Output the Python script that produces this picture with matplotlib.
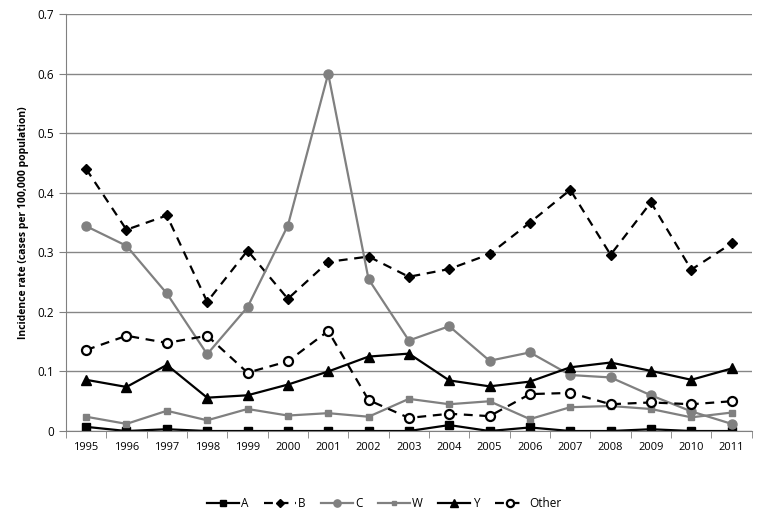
import numpy as np
from matplotlib import pyplot as plt

years = [str(y) for y in range(1995, 2012)]

a_vals = [0.007, 0.0, 0.003, 0.0, 0.0, 0.0, 0.0, 0.0, 0.0, 0.010, 0.0, 0.006, 0.0, 0.0, 0.003, 0.0, 0.0]
b_vals = [0.440, 0.338, 0.362, 0.217, 0.303, 0.222, 0.284, 0.293, 0.259, 0.272, 0.297, 0.350, 0.405, 0.296, 0.384, 0.271, 0.315]
c_vals = [0.344, 0.311, 0.231, 0.129, 0.208, 0.345, 0.600, 0.255, 0.152, 0.176, 0.118, 0.132, 0.094, 0.090, 0.060, 0.033, 0.012]
w_vals = [0.024, 0.012, 0.034, 0.018, 0.037, 0.026, 0.030, 0.024, 0.054, 0.045, 0.050, 0.020, 0.040, 0.042, 0.037, 0.023, 0.031]
y_vals = [0.086, 0.074, 0.111, 0.056, 0.060, 0.078, 0.100, 0.125, 0.130, 0.085, 0.075, 0.083, 0.107, 0.115, 0.101, 0.086, 0.105]
other_vals = [0.136, 0.160, 0.148, 0.160, 0.098, 0.117, 0.168, 0.052, 0.022, 0.029, 0.025, 0.062, 0.064, 0.045, 0.048, 0.045, 0.050]

plt.rcParams['font.family'] = ['Open Sans', 'DejaVu Sans']

fig = plt.figure(figsize=(7.68, 5.25), dpi=100)
ax = fig.add_axes([0.0859, 0.179, 0.893, 0.794])

x = np.arange(len(years))
grey = '#808080'

ax.plot(x, a_vals, color='black', lw=1.6, marker='s', ms=6, label='A')
ax.plot(x, b_vals, color='black', lw=1.6, ls=(0, (4, 3)), marker='D', ms=5, label='B')
ax.plot(x, c_vals, color=grey, lw=1.6, marker='o', ms=6.5, label='C')
ax.plot(x, w_vals, color=grey, lw=1.6, marker='s', ms=4, label='W')
ax.plot(x, y_vals, color='black', lw=1.6, marker='^', ms=7, label='Y')
ax.plot(x, other_vals, color='black', lw=1.6, ls=(0, (4, 3)), marker='o', ms=6.5,
        mfc='white', mew=1.6, label='Other')

ax.set_xlim(-0.5, len(years) - 0.5)
ax.set_ylim(0, 0.7)
ax.set_yticks(np.arange(0, 0.71, 0.1))
ax.set_yticklabels(['0'] + ['%.1f' % v for v in np.arange(0.1, 0.71, 0.1)])
ax.set_xticks(x)
ax.set_xticklabels(years)
ax.set_xticks(np.arange(-0.5, len(years), 1), minor=True)
ax.tick_params(axis='x', which='major', length=0, labelsize=8, pad=8)
ax.tick_params(axis='x', which='minor', length=5, color=grey, direction='out')
ax.tick_params(axis='y', length=5, color=grey, labelsize=8.5)

ax.grid(axis='y', color='#868686', lw=1)
ax.set_axisbelow(True)
for s in ['top', 'right']:
    ax.spines[s].set_visible(False)
for s in ['left', 'bottom']:
    ax.spines[s].set_color(grey)

ax.set_ylabel('Incidence rate (cases per 100,000 population)', fontsize=7.5,
              fontweight='bold', labelpad=6)

ax.legend(loc='upper center', bbox_to_anchor=(0.5, 0.073), bbox_transform=fig.transFigure,
          ncol=6, frameon=False, fontsize=8.5, handlelength=2.7, columnspacing=1.3,
          handletextpad=0.2, markerscale=0.8)

fig.savefig('out.png', dpi=100)
